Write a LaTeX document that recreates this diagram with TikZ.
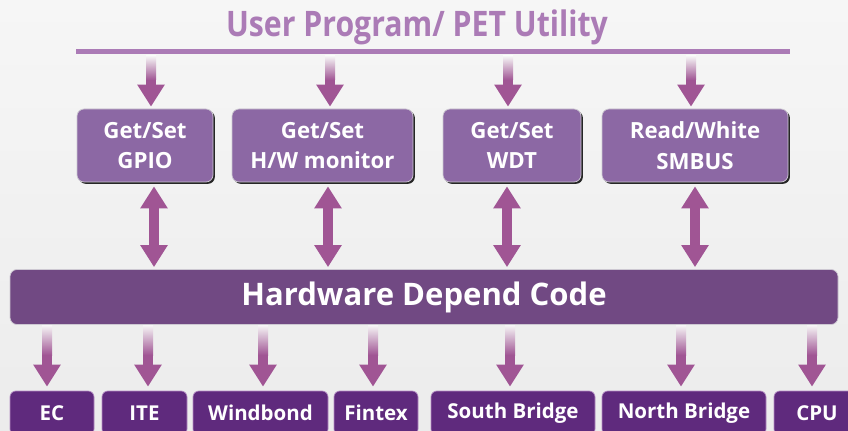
\documentclass[tikz,border=0pt]{standalone}
\usepackage{fontspec}
\setmainfont{Open Sans}
\usetikzlibrary{arrows.meta}
\definecolor{bgtop}{RGB}{246,246,246}
\definecolor{bgbot}{RGB}{236,236,236}
\definecolor{titlepurple}{RGB}{171,123,182}
\definecolor{apipurple}{RGB}{140,104,164}
\definecolor{apiedge}{RGB}{205,200,210}
\definecolor{corepurple}{RGB}{113,73,131}
\definecolor{chippurple}{RGB}{95,42,125}
\definecolor{chipedge}{RGB}{180,140,195}
\definecolor{arrowpurple}{RGB}{160,85,148}
\def\pxu{0.03cm}

\begin{document}
\begin{tikzpicture}[
  x=0.03cm, y=-0.03cm,
  title/.style={text=titlepurple, font=\fontsize{30}{32}\selectfont\bfseries},
  busline/.style={fill=titlepurple, inner sep=0pt, minimum width=714*\pxu, minimum height=5*\pxu},
  api/.style={fill=apipurple, draw=apiedge, line width=0.6pt, rounded corners=6pt, text=white, align=center, inner sep=0pt,
    minimum height=73*\pxu, font=\fontsize{19}{26}\selectfont\bfseries,
    preaction={fill=black!85, transform canvas={xshift=1.6pt, yshift=-1.6pt}}},
  core/.style={fill=corepurple, draw=apiedge, line width=0.6pt, rounded corners=6pt, text=white, inner sep=0pt,
    minimum width=828*\pxu, minimum height=55*\pxu, font=\fontsize{26.5}{30}\selectfont\bfseries},
  chip/.style={fill=chippurple, draw=chipedge, line width=0.6pt, rounded corners=5pt, text=white, inner sep=0pt,
    minimum height=44*\pxu, font=\fontsize{17.5}{20}\selectfont\bfseries},
  flow/.style={draw=arrowpurple, line width=10*\pxu, -{Triangle[width=26*\pxu, length=22*\pxu]}},
  dflow/.style={draw=arrowpurple, line width=10*\pxu, {Triangle[width=26*\pxu, length=22*\pxu]}-{Triangle[width=26*\pxu, length=22*\pxu]}}
]
\useasboundingbox (0,0) rectangle (848,431);
\clip (0,0) rectangle (848,431);
\shade[top color=bgtop, bottom color=bgbot] (0,0) rectangle (848,431);

\node[title] (user) at (417,27) {\scalebox{0.86}[1]{User Program/ PET Utility}};
\node[busline] (bus) at (433,52) {};
\node[core] (hdc) at (424,297) {Hardware Depend Code};

% API layer
\foreach \x/\w/\ax/\bx/\txt/\id in {145/136/151/154/{Get/Set\\GPIO}/gpio,
    322.5/181/330/328/{Get/Set\\H/W monitor}/hwm,
    512/138/508/507/{Get/Set\\WDT}/wdt,
    695/186/691/695/{Read/White\\SMBUS}/smbus} {
  \node[api, minimum width=\w*\pxu] (\id) at (\x,145.5) {\txt};
  \draw[flow, shorten <=2*\pxu, shorten >=2*\pxu] (bus.south -| \ax,0) -- (\id.north -| \ax,0);
  \shade[top color=bgtop, bottom color=arrowpurple] (\ax-5,56) rectangle (\ax+5,80);
  \draw[dflow, shorten <=4*\pxu, shorten >=2*\pxu] (\id.south -| \bx,0) -- (hdc.north -| \bx,0);
}

% chips
\foreach \x/\w/\ax/\txt/\id in {52/84/47/EC/ec, 144.5/85/148/ITE/ite, 260.5/135/263/Windbond/wb,
    376/84/373/Fintex/fin, 513/164/510/South Bridge/sb, 684/164/681/North Bridge/nb, 817/86/812/CPU/cpu} {
  \node[chip, minimum width=\w*\pxu] (\id) at (\x,413) {\txt};
  \draw[flow, shorten <=1*\pxu, shorten >=4*\pxu] (hdc.south -| \ax,0) -- (\id.north -| \ax,0);
  \shade[top color=bgtop, bottom color=arrowpurple] (\ax-5,325) rectangle (\ax+5,355);
}
\end{tikzpicture}
\end{document}
